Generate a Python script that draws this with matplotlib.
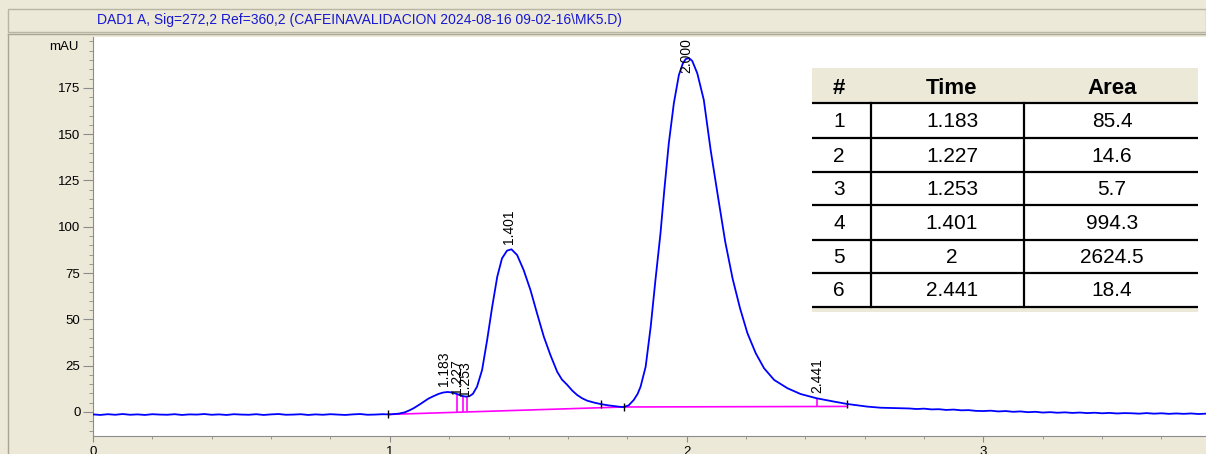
import matplotlib
matplotlib.use("Agg")
import matplotlib.pyplot as plt
import numpy as np
from matplotlib.ticker import MultipleLocator
from matplotlib.patches import Rectangle
from matplotlib.lines import Line2D

plt.rcParams['font.family'] = ['Liberation Sans', 'DejaVu Sans']

title = "DAD1 A, Sig=272,2 Ref=360,2 (CAFEINAVALIDACION 2024-08-16 09-02-16\\MK5.D)"

# trace (min, mAU)
time_min = [
    0.000, 0.025, 0.050, 0.075, 0.100, 0.125, 0.150, 0.175, 0.200, 0.225,
    0.250, 0.275, 0.300, 0.325, 0.350, 0.375, 0.400, 0.425, 0.450, 0.475,
    0.500, 0.525, 0.550, 0.575, 0.600, 0.625, 0.650, 0.675, 0.700, 0.725,
    0.750, 0.775, 0.800, 0.825, 0.850, 0.875, 0.900, 0.925, 0.950, 0.975,
    1.000, 1.030, 1.050, 1.065, 1.080, 1.100, 1.115, 1.130, 1.148, 1.165,
    1.180, 1.195, 1.210, 1.227, 1.240, 1.255, 1.268, 1.280, 1.294, 1.311,
    1.328, 1.345, 1.362, 1.378, 1.395, 1.410, 1.429, 1.451, 1.474, 1.496,
    1.519, 1.541, 1.564, 1.580, 1.598, 1.615, 1.631, 1.648, 1.665, 1.690,
    1.710, 1.735, 1.755, 1.775, 1.789, 1.805, 1.822, 1.835, 1.845, 1.862,
    1.879, 1.895, 1.912, 1.925, 1.940, 1.957, 1.974, 1.987, 1.997, 2.008,
    2.019, 2.036, 2.058, 2.081, 2.104, 2.130, 2.155, 2.180, 2.205, 2.233,
    2.261, 2.295, 2.340, 2.384, 2.438, 2.497, 2.542, 2.609, 2.654, 2.720,
    2.750, 2.775, 2.800, 2.825, 2.850, 2.875, 2.900, 2.925, 2.950, 2.975,
    3.000, 3.025, 3.050, 3.075, 3.100, 3.125, 3.150, 3.175, 3.200, 3.225,
    3.250, 3.275, 3.300, 3.325, 3.350, 3.375, 3.400, 3.425, 3.450, 3.475,
    3.500, 3.525, 3.550, 3.575, 3.600, 3.625, 3.650, 3.675, 3.700, 3.725,
    3.750,
]
signal_mau = [
    -1.3, -1.6, -1.2, -1.5, -1.1, -1.5, -1.3, -1.6, -1.2, -1.4,
    -1.5, -1.2, -1.6, -1.3, -1.4, -1.1, -1.5, -1.3, -1.6, -1.2,
    -1.4, -1.5, -1.2, -1.6, -1.3, -1.1, -1.5, -1.4, -1.2, -1.6,
    -1.3, -1.5, -1.2, -1.4, -1.6, -1.3, -1.1, -1.5, -1.4, -1.2,
    -1.3, -0.9, -0.2, 0.8, 2.0, 4.0, 5.6, 7.2, 8.6, 9.8,
    10.5, 10.8, 10.5, 9.7, 8.8, 8.3, 8.5, 9.8, 13.7, 22.7,
    38.9, 56.8, 73.0, 82.9, 87.1, 87.8, 84.7, 76.6, 65.8, 53.3,
    40.6, 30.8, 21.7, 17.5, 14.6, 11.5, 9.2, 7.4, 6.1, 5.0,
    4.3, 3.6, 3.2, 2.8, 2.7, 3.6, 6.5, 9.8, 13.7, 24.4,
    46.0, 71.2, 96.4, 120.0, 145.0, 166.6, 181.9, 188.0, 190.5, 191.0,
    189.5, 182.8, 168.4, 141.4, 118.0, 92.0, 72.0, 56.0, 42.5, 31.7,
    23.6, 17.3, 12.8, 9.7, 7.4, 5.6, 4.3, 2.9, 2.3, 2.0,
    1.9, 1.6, 1.8, 1.4, 1.5, 1.1, 1.3, 0.9, 1.0, 0.6,
    0.5, 0.7, 0.3, 0.5, 0.1, 0.3, -0.1, 0.1, -0.3, -0.1,
    -0.4, -0.2, -0.5, -0.3, -0.6, -0.4, -0.7, -0.5, -0.8, -0.6,
    -0.7, -0.9, -0.6, -0.9, -0.7, -1.0, -0.8, -1.0, -0.8, -1.1,
    -0.9,
]

# integration baseline
baseline_time = [1.000, 1.789, 2.542]
baseline_mau = [-1.3, 2.7, 3.0]
drop_times = [1.225, 1.245, 1.259, 2.441]
mark_times = [0.995, 1.710, 1.789, 2.542]

# peak table
peak_no = [1, 2, 3, 4, 5, 6]
peak_time = [1.183, 1.227, 1.253, 1.401, 2.000, 2.441]
peak_area = [85.4, 14.6, 5.7, 994.3, 2624.5, 18.4]

W, H = 1206, 454
BEIGE = '#ECE9D8'
GRAY = '#8c8c8c'


def fx(px):
    return px / W


def fy(py):
    return 1 - py / H


fig = plt.figure(figsize=(W / 100, H / 100), dpi=100, facecolor=BEIGE)

# title bar + outer frame
fig.patches.append(Rectangle((fx(8), fy(32)), fx(1206) - fx(8), fy(9) - fy(32),
                             transform=fig.transFigure, facecolor=BEIGE,
                             edgecolor='#b9b5a4', lw=1))
fig.text(fx(97), fy(20), title, color='#1818d0', fontsize=10, ha='left', va='center')
fig.lines.append(Line2D([fx(7.5), 1], [fy(33.5), fy(33.5)], transform=fig.transFigure,
                        color='#a8a597', lw=1))
fig.lines.append(Line2D([fx(7.5), fx(7.5)], [fy(33.5), 0], transform=fig.transFigure,
                        color='#a8a597', lw=1))

ax = fig.add_axes([fx(93), fy(435.7), fx(1206) - fx(93), fy(37) - fy(435.7)])
ax.set_facecolor('white')
ax.plot(time_min, signal_mau, color='#0000ff', lw=1.3, zorder=3)
ax.plot(baseline_time, baseline_mau, color='#ff00ff', lw=1.2, zorder=2)
ax.vlines(drop_times, np.interp(drop_times, baseline_time, baseline_mau),
          np.interp(drop_times, time_min, signal_mau), color='#ff00ff', lw=1.2, zorder=2)
ax.plot(mark_times, np.interp(mark_times, time_min, signal_mau), ls='none',
        marker='|', ms=6, mew=1, color='black', zorder=4)

ax.set_xlim(0, 3.75)
ax.set_ylim(-12.8, 202.4)
for s in ['top', 'right']:
    ax.spines[s].set_visible(False)
for s in ['left', 'bottom']:
    ax.spines[s].set_color(GRAY)
ax.xaxis.set_major_locator(MultipleLocator(1))
ax.xaxis.set_minor_locator(MultipleLocator(0.2))
ax.yaxis.set_major_locator(MultipleLocator(25))
ax.yaxis.set_minor_locator(MultipleLocator(5))
ax.set_yticks([0, 25, 50, 75, 100, 125, 150, 175])
ax.tick_params(axis='both', which='major', colors=GRAY, labelcolor='black', labelsize=9.5)
ax.tick_params(axis='y', which='major', length=7, pad=2)
ax.tick_params(axis='y', which='minor', length=3, color=GRAY)
ax.tick_params(axis='x', which='major', length=4.5, pad=3)
ax.tick_params(axis='x', which='minor', length=2.5, color=GRAY)
fig.text(fx(79), fy(47), 'mAU', ha='right', va='center', fontsize=9.5)

# peak labels
label_offsets = [6, 0, 0, 6, None, 5]
for t, off in zip(peak_time, label_offsets):
    txt = f"{t:.3f}"
    if off is None:
        ax.annotate(txt, xy=(t, 1), xycoords=('data', 'axes fraction'),
                    xytext=(0, -1), textcoords='offset points', rotation=90,
                    ha='center', va='top', fontsize=10)
    else:
        ax.annotate(txt, xy=(t, np.interp(t, time_min, signal_mau)),
                    xytext=(0, off * 0.72), textcoords='offset points', rotation=90,
                    ha='center', va='bottom', fontsize=10)

# results table
tx = fig.add_axes([fx(812), fy(312), fx(1198) - fx(812), fy(68) - fy(312)])
tx.set_xlim(0, 386)
tx.set_ylim(244, 0)
tx.axis('off')
tx.add_patch(Rectangle((0, 0), 386, 35, facecolor=BEIGE, edgecolor='none'))
tx.add_patch(Rectangle((0, 35), 386, 204, facecolor='white', edgecolor='none'))
tx.add_patch(Rectangle((0, 239), 386, 5, facecolor=BEIGE, edgecolor='none'))
row_lines = [35.3, 70.3, 103.7, 137.0, 172.0, 205.3, 238.7]
for yl in row_lines:
    tx.plot([0, 386], [yl, yl], color='black', lw=1.6)
for xl in [59, 212]:
    tx.plot([xl, xl], [35.3, 238.7], color='black', lw=1.6)
col_x = [27, 140, 300]
for x, h in zip(col_x, ['#', 'Time', 'Area']):
    tx.text(x, 20, h, ha='center', va='center', fontsize=16, fontweight='bold')
for i, (n, t, a) in enumerate(zip(peak_no, peak_time, peak_area)):
    yc = (row_lines[i] + row_lines[i + 1]) / 2 + 1
    for x, v in zip(col_x, [str(n), f"{t:g}", f"{a:g}"]):
        tx.text(x, yc, v, ha='center', va='center', fontsize=15)

fig.savefig('out.png', dpi=100, facecolor=fig.get_facecolor())
